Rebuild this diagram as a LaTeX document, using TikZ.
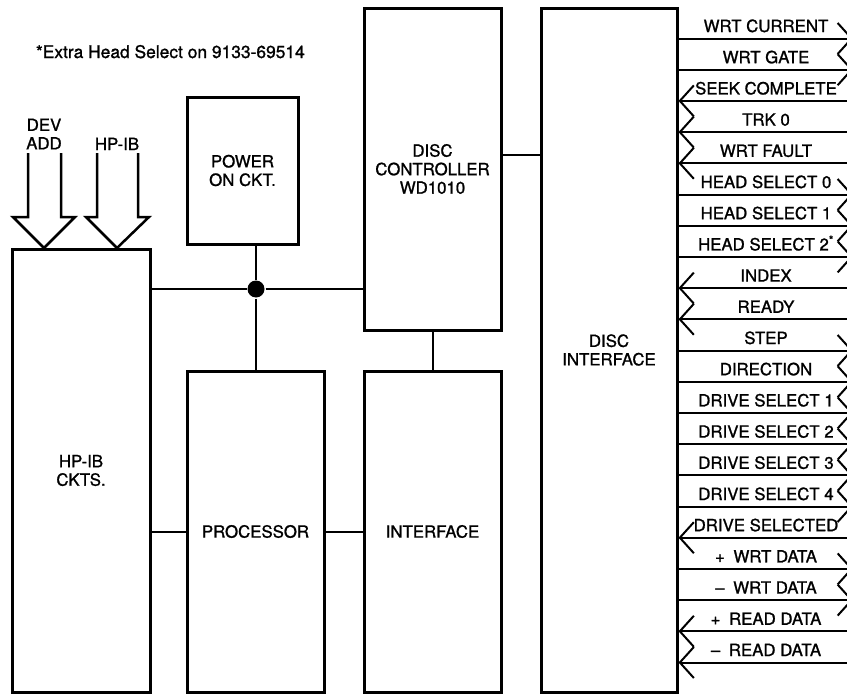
\documentclass[tikz,border=0pt]{standalone}
\usepackage{fontspec}
\setmainfont{TeX Gyre Heros}[FakeBold=1.2]
\usetikzlibrary{positioning,arrows.meta}

\begin{document}
\begin{tikzpicture}[x=1pt, y=-1pt, line width=2pt, >={Straight Barb[length=14pt, width=31pt, line width=2pt]},
  every node/.style={font=\fontsize{16.8}{18.5}\selectfont},
  blk/.style={draw, line width=3pt, align=center, inner sep=0pt},
  bus/.style={line width=2.5pt, line join=miter},
  sig/.style={anchor=base, inner sep=0pt}]
\useasboundingbox (0,0) rectangle (847,696);
\clip (0,0) rectangle (847,696);

\node[anchor=base west, inner sep=0pt, font=\fontsize{17.4}{20}\selectfont] (note) at (35,58) {*Extra Head Select on 9133-69514};

% main blocks
\node[blk, minimum width=138pt, minimum height=443pt] (hpib) at (81,470.5) {HP-IB\\CKTS.};
\node[blk, minimum width=111pt, minimum height=147pt] (power) at (242.5,170.5) {POWER\\ON CKT.};
\node[blk, minimum width=137pt, minimum height=321pt] (proc) at (255.5,531.5) {PROCESSOR};
\node[blk, minimum width=137pt, minimum height=322pt] (discctl) at (432.5,169) {DISC\\CONTROLLER\\WD1010};
\node[blk, minimum width=137pt, minimum height=321pt] (iface) at (432.5,531.5) {INTERFACE};
\node[blk, minimum width=136pt, minimum height=684pt] (discif) at (609,350) {DISC\\INTERFACE};

% bus and junction
\node[circle, fill, inner sep=0pt, minimum size=17pt] (jn) at (256,289) {};
\draw (hpib.east |- jn) -- (jn) -- (discctl.west |- jn);
\draw (power.south -| jn) -- (jn) -- (proc.north -| jn);
\draw (hpib.east |- proc.west) -- (proc.west);
\draw (proc) -- (iface);
\draw (discctl) -- (iface);
\coordinate (ctlif) at (521,155);
\draw (discctl.east |- ctlif) -- (discif.west |- ctlif);

% inputs to HP-IB
\coordinate (devtip) at (44,248);
\coordinate (hptip) at (117,248);
\draw[bus, shift={(devtip)}] (-16,-95) -- (-16,-31) -- (-31,-31) -- (0,0) -- (31,-31) -- (17,-31) -- (17,-95);
\draw[bus, shift={(hptip)}] (-20,-95) -- (-20,-31) -- (-31,-31) -- (0,0) -- (32,-31) -- (21,-31) -- (21,-95);
\node[align=center, inner sep=0pt] (devlbl) at (44,134) {DEV\\ADD};
\node[sig] (hplbl) at (117,150) {HP-IB};

% drive signals
\foreach \lbl/\dir [count=\i] in {WRT CURRENT/o, WRT GATE/o, SEEK COMPLETE/i, TRK 0/i, WRT FAULT/i,
    HEAD SELECT 0/o, HEAD SELECT 1/o, HEAD SELECT 2\textsuperscript{*}/o, INDEX/i, READY/i,
    STEP/o, DIRECTION/o, DRIVE SELECT 1/o, DRIVE SELECT 2/o, DRIVE SELECT 3/o, DRIVE SELECT 4/o,
    DRIVE SELECTED/i, +\hspace{4pt} WRT DATA/o, –\hspace{4pt} WRT DATA/o, +\hspace{4pt} READ DATA/i, –\hspace{4pt} READ DATA/i} {
  \pgfmathsetmacro{\ly}{38.5+31.2*(\i-1)}
  \coordinate (end\i) at (853,\ly);
  \node[sig] (sig\i) at (766,\ly-6.5) {\lbl};
  \if o\dir
    \draw[->] (discif.east |- end\i) -- (end\i);
  \else
    \draw[<-] (discif.east |- end\i) -- (end\i);
  \fi
}
\end{tikzpicture}
\end{document}
